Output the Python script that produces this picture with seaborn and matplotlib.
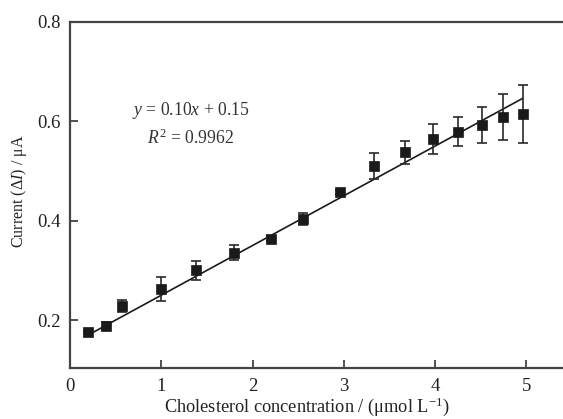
import numpy as np
import pandas as pd
import matplotlib
matplotlib.use("Agg")
import matplotlib.pyplot as plt
import seaborn as sns

# Cholesterol concentration (µmol/L), mean current response (µA) and error bars
concentration = [0.20, 0.39, 0.57, 1.00, 1.38, 1.80, 2.20, 2.55, 2.96, 3.33, 3.67, 3.98, 4.25, 4.51, 4.74, 4.96]
current = [0.175, 0.188, 0.229, 0.262, 0.300, 0.335, 0.364, 0.404, 0.457, 0.509, 0.537, 0.564, 0.579, 0.592, 0.608, 0.614]
error = [0.004, 0.008, 0.012, 0.024, 0.019, 0.015, 0.005, 0.012, 0.004, 0.026, 0.023, 0.031, 0.029, 0.036, 0.046, 0.058]

# Linear calibration fit
slope = 0.10
intercept = 0.15
r_squared = 0.9962
fit_range = [0.18, 4.96]

x_ticks = [0, 1, 2, 3, 4, 5]
y_ticks = [0.2, 0.4, 0.6, 0.8]

sns.set_theme(style="white")
plt.rcParams["font.family"] = ["Liberation Serif", "DejaVu Serif"]
plt.rcParams["mathtext.fontset"] = "custom"
plt.rcParams["mathtext.rm"] = "Liberation Serif"
plt.rcParams["mathtext.it"] = "Liberation Serif:italic"

df = pd.DataFrame({"conc": concentration, "current": current, "err": error})
fit_x = np.array(fit_range)
fit_df = pd.DataFrame({"conc": fit_x, "current": slope * fit_x + intercept})

fig = plt.figure(figsize=(5.63, 4.19), dpi=100)
ax = fig.add_axes([70 / 563, 1 - 368.3 / 419, 1 - 70 / 563, (368.3 - 21.7) / 419])

ink = "#1a1a1a"
sns.lineplot(data=fit_df, x="conc", y="current", ax=ax, color=ink, linewidth=1.2)
ax.errorbar(df["conc"], df["current"], yerr=df["err"], fmt="none",
            ecolor="#2a2a2a", elinewidth=1.2, capsize=3.5, capthick=1.2, zorder=3)
sns.scatterplot(data=df, x="conc", y="current", ax=ax, marker="s", s=55,
                color=ink, edgecolor=ink, linewidth=0.5, zorder=4)

ax.set_xlim(0, 5.4)
ax.set_ylim(0.103, 0.8)
ax.set_xticks(x_ticks)
ax.set_xticklabels([str(t) for t in x_ticks])
ax.set_yticks(y_ticks)
ax.set_yticklabels([f"{t:.1f}" for t in y_ticks])

ax.tick_params(axis="both", direction="in", length=6, width=1.2, colors="#333333",
               labelsize=13.5, labelcolor="#222222",
               left=True, bottom=True, top=False, right=False)
ax.tick_params(axis="x", pad=7)
ax.tick_params(axis="y", pad=7)

for side in ["left", "bottom", "top"]:
    ax.spines[side].set_color("#444444")
    ax.spines[side].set_linewidth(1.6)
ax.spines["right"].set_visible(False)

ax.set_xlabel(r"Cholesterol concentration / (μmol L$^{-1}$)", fontsize=13.2, color="#222222", labelpad=0)
ax.xaxis.label.set_x(0.481)
ax.set_ylabel(r"Current (Δ$I$) / μA", fontsize=11.5, color="#222222")
ax.yaxis.set_label_coords(-0.083, 0.51)

ax.text(1.32, 0.622, rf"$y$ = {slope:.2f}$x$ + {intercept:.2f}", ha="center", va="center",
        fontsize=12.7, color="#333333")
ax.text(1.32, 0.566, rf"$R^2$ = {r_squared:.4f}", ha="center", va="center",
        fontsize=12.7, color="#333333")

fig.savefig("out.png", dpi=100)
